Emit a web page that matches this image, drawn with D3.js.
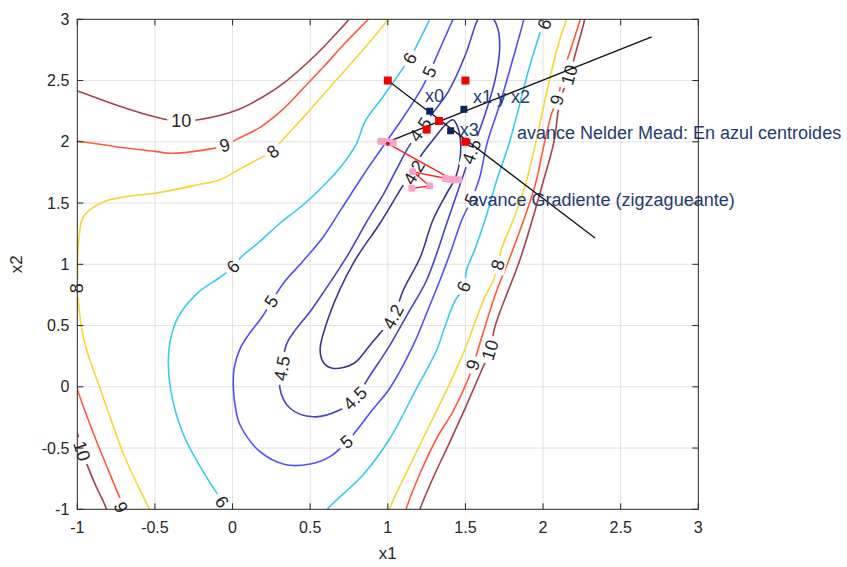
<!DOCTYPE html>
<html>
<head>
<meta charset="utf-8">
<script src="https://cdn.jsdelivr.net/npm/d3@7"></script>
<style>
  body { margin: 0; background: #fff; }
  svg { display: block; font-family: "Liberation Sans", Arial, sans-serif; }
</style>
</head>
<body>
<svg id="chart" width="847" height="567"></svg>
<script>
// axis ticks
const xTicks = [-1, -0.5, 0, 0.5, 1, 1.5, 2, 2.5, 3];
const yTicks = [-1, -0.5, 0, 0.5, 1, 1.5, 2, 2.5, 3];

// contour levels and their line colours
const levels = [4.2, 4.5, 5, 6, 8, 9, 10];
const levelColors = ["#36368f", "#4343c8", "#5050f7", "#3cc8f2", "#f5d63a", "#ff5a3c", "#a2444b"];

// contour lines, points are [x1, x2]
const c42 = [[0.65,0.15],[0.78,0.19],[0.885,0.34],[0.95,0.437],[1.035,0.57],[1.10,0.79],[1.21,1.06],[1.29,1.36],
  [1.38,1.58],[1.44,1.72],[1.47,1.96],[1.45,2.12],[1.42,2.18],[1.38,2.15],[1.30,2.03],[1.21,1.88],[1.16,1.77],
  [1.08,1.607],[0.95,1.335],[0.778,1.01],[0.628,0.60],[0.564,0.30],[0.59,0.19]];
const c45 = [[1.61,3.06],[1.573,2.98],[1.50,2.71],[1.39,2.41],[1.28,2.22],[1.21,2.10],[1.13,1.95],[1.05,1.76],
  [0.98,1.59],[0.87,1.36],[0.735,1.06],[0.52,0.65],[0.35,0.355],[0.32,0.15],[0.305,-0.01],[0.37,-0.175],
  [0.52,-0.245],[0.69,-0.19],[0.79,-0.095],[0.874,0.07],[1.014,0.34],[1.13,0.6],[1.25,0.87],[1.38,1.335],
  [1.476,1.69],[1.54,1.92],[1.62,2.2],[1.69,2.5],[1.72,2.75],[1.71,2.92],[1.67,3.02]];
const c5 = [[1.43,3.03],[1.42,3.0],[1.35,2.8],[1.27,2.57],[1.22,2.44],[1.10,2.2],[0.99,2.0],[0.88,1.8],[0.70,1.45],
  [0.585,1.225],[0.45,1.02],[0.33,0.85],[0.25,0.695],[0.19,0.57],[0.10,0.42],[0.048,0.31],[0.01,0.15],
  [0.005,-0.01],[0.02,-0.18],[0.048,-0.31],[0.177,-0.53],[0.338,-0.635],[0.50,-0.63],[0.628,-0.57],
  [0.735,-0.45],[0.79,-0.37],[0.90,-0.19],[1.014,-0.01],[1.164,0.34],[1.25,0.6],[1.336,0.87],[1.41,1.12],
  [1.476,1.36],[1.54,1.53],[1.59,1.70],[1.64,1.99],[1.72,2.3],[1.80,2.65],[1.876,3.0],[1.88,3.03]];
const c6a = [[1.28,3.03],[1.27,3.0],[1.20,2.82],[1.143,2.68],[1.09,2.586],[0.97,2.37],[0.853,2.164],[0.80,1.99],
  [0.70,1.80],[0.60,1.66],[0.45,1.48],[0.305,1.335],[0.17,1.18],[0.048,1.05],[0.005,0.98],[-0.09,0.886],
  [-0.23,0.76],[-0.36,0.545],[-0.41,0.30],[-0.40,-0.01],[-0.317,-0.39],[-0.19,-0.69],[-0.10,-0.87],
  [-0.05,-0.96],[-0.02,-1.03]];
const c6b = [[2.03,3.05],[1.98,2.885],[1.91,2.6],[1.84,2.26],[1.78,1.98],[1.70,1.68],[1.626,1.36],[1.56,1.12],
  [1.508,0.955],[1.49,0.817],[1.43,0.695],[1.37,0.5],[1.315,0.30],[1.186,-0.01],[1.014,-0.42],[0.84,-0.72],
  [0.617,-0.99],[0.60,-1.03]];
const c8a = [[1.02,3.03],[1.003,3.0],[0.82,2.72],[0.63,2.45],[0.47,2.22],[0.305,1.99],[0.26,1.92],[0.198,1.88],
  [0.05,1.78],[-0.08,1.69],[-0.23,1.647],[-0.5,1.58],[-0.70,1.55],[-0.83,1.51],[-0.96,1.39],[-0.99,1.2],
  [-0.998,0.95],[-0.995,0.75],[-0.975,0.5],[-0.94,0.30],[-0.854,-0.01],[-0.78,-0.28],[-0.70,-0.557],
  [-0.62,-0.78],[-0.54,-0.99],[-0.53,-1.03]];
const c8b = [[2.16,3.05],[2.15,3.0],[2.10,2.8],[2.056,2.586],[1.98,2.15],[1.895,1.69],[1.82,1.4],[1.73,1.117],
  [1.71,0.995],[1.68,0.87],[1.626,0.736],[1.528,0.41],[1.508,0.34],[1.40,0.03],[1.27,-0.31],[1.14,-0.65],
  [1.014,-0.99],[1.01,-1.03]];
const c9a = [[-1.02,2.01],[-1.0,2.006],[-0.75,1.96],[-0.49,1.92],[-0.40,1.906],[-0.2,1.93],[-0.05,1.97],
  [0.027,2.02],[0.18,2.12],[0.32,2.26],[0.45,2.43],[0.585,2.61],[0.72,2.8],[0.874,3.0],[0.90,3.04]];
const c9b = [[2.25,3.05],[2.24,3.0],[2.19,2.8],[2.14,2.6],[2.09,2.34],[2.055,2.23],[2.0,1.94],[1.95,1.65],
  [1.80,1.1],[1.70,0.78],[1.626,0.49],[1.55,0.178],[1.51,0.04],[1.42,-0.2],[1.315,-0.42],[1.21,-0.7],
  [1.117,-1.0],[1.11,-1.03]];
const c9c = [[-1.01,0.02],[-1.0,-0.02],[-0.95,-0.2],[-0.875,-0.448],[-0.80,-0.68],[-0.725,-0.91],[-0.70,-0.98],[-0.69,-1.03]];
const c10a = [[-1.02,2.42],[-1.0,2.415],[-0.75,2.30],[-0.55,2.22],[-0.42,2.18],[-0.33,2.17],[-0.22,2.18],
  [0.03,2.26],[0.2,2.37],[0.34,2.49],[0.52,2.69],[0.65,2.86],[0.75,3.0],[0.77,3.04]];
const c10b = [[2.27,3.05],[2.266,2.99],[2.217,2.76],[2.17,2.545],[2.11,2.34],[2.07,2.0],[2.0,1.67],[1.86,1.07],
  [1.69,0.49],[1.66,0.30],[1.60,0.123],[1.50,-0.17],[1.40,-0.45],[1.30,-0.72],[1.207,-1.0],[1.20,-1.03]];
const c10c = [[-1.01,-0.35],[-1.0,-0.38],[-0.97,-0.5],[-0.94,-0.625],[-0.88,-0.81],[-0.815,-0.99],[-0.81,-1.03]];

const contourLines = [
  { level: 4.2, pts: c42, closed: true },
  { level: 4.5, pts: c45, closed: true },
  { level: 5, pts: c5 },
  { level: 6, pts: c6a }, { level: 6, pts: c6b },
  { level: 8, pts: c8a }, { level: 8, pts: c8b },
  { level: 9, pts: c9a }, { level: 9, pts: c9b }, { level: 9, pts: c9c },
  { level: 10, pts: c10a }, { level: 10, pts: c10b }, { level: 10, pts: c10c }
];

// inline contour labels: [x1, x2, text, angle]
const contourLabels = [
  [-0.33, 2.17, "10", 0], [-0.05, 1.97, "9", -15], [0.26, 1.92, "8", -38],
  [0.005, 0.98, "6", -45], [0.25, 0.695, "5", -57], [0.32, 0.15, "4.5", -80],
  [0.79, -0.095, "4.5", -45], [0.735, -0.45, "5", -40], [-0.07, -0.94, "6", 55],
  [1.035, 0.57, "4.2", -62], [1.49, 0.817, "6", -69], [1.71, 0.995, "8", -75],
  [1.55, 0.178, "9", -72], [1.66, 0.30, "10", -73], [1.54, 1.53, "5", -67],
  [1.54, 1.92, "4.5", -70], [1.21, 2.10, "4.5", -55], [1.17, 1.75, "4.2", -59],
  [1.27, 2.57, "5", -65], [1.143, 2.68, "6", -60], [2.01, 2.96, "6", -73],
  [2.09, 2.34, "9", -74], [2.17, 2.545, "10", -74], [-1.0, 0.804, "8", -90],
  [-0.972, -0.524, "10", 73], [-0.72, -0.985, "9", 68]
];

// Nelder-Mead run
const nmVertices = [[1.0, 2.5], [1.5, 2.5], [1.25, 2.1], [1.33, 2.17], [1.5, 2.0]];
const nmCentroids = [[1.27, 2.25], [1.49, 2.265], [1.405, 2.09]];
const nmLines = [[[1.0, 2.5], [2.335, 1.215]], [[1.0, 2.0], [2.70, 2.856]]];
const centroidNames = [[1.24, 2.374, "x0"], [1.549, 2.366, "x1 y x2"], [1.464, 2.096, "x3"]];

// gradient run
const gradPath = [[1.0, 1.985], [1.42, 1.69], [1.16, 1.755], [1.27, 1.64], [1.155, 1.62]];
const gradMarkers = [[0.955, 2.005], [0.975, 2.0], [0.995, 2.0], [1.015, 1.995], [1.035, 1.99],
  [1.37, 1.70], [1.40, 1.695], [1.43, 1.69], [1.455, 1.69], [1.16, 1.755], [1.27, 1.64], [1.155, 1.62]];

const notes = [[1.832, 2.071, "avance Nelder Mead: En azul centroides"], [1.52, 1.525, "avance Gradiente (zigzagueante)"]];

const svg = d3.select("#chart");
const W = 847, H = 567;
const x = d3.scaleLinear().domain([-1, 3]).range([77.3, 698.3]);
const y = d3.scaleLinear().domain([-1, 3]).range([509.3, 19.3]);
const [x0, x1] = x.range(), [y0, y1] = [y.range()[1], y.range()[0]];
const color = d3.scaleOrdinal().domain(levels).range(levelColors);

svg.append("rect").attr("width", W).attr("height", H).attr("fill", "#fff");

const defs = svg.append("defs");
defs.append("clipPath").attr("id", "plotclip")
  .append("rect").attr("x", x0).attr("y", y0).attr("width", x1 - x0).attr("height", y1 - y0);
const mask = defs.append("mask").attr("id", "lblmask").attr("maskUnits", "userSpaceOnUse")
  .attr("x", 0).attr("y", 0).attr("width", W).attr("height", H);
mask.append("rect").attr("width", W).attr("height", H).attr("fill", "#fff");

// grid
svg.append("g").selectAll("line").data(xTicks.slice(1, -1)).join("line")
  .attr("x1", d => x(d)).attr("x2", d => x(d)).attr("y1", y0).attr("y2", y1)
  .attr("stroke", "#e1e1e1").attr("stroke-width", 1);
svg.append("g").selectAll("line").data(yTicks.slice(1, -1)).join("line")
  .attr("y1", d => y(d)).attr("y2", d => y(d)).attr("x1", x0).attr("x2", x1)
  .attr("stroke", "#e1e1e1").attr("stroke-width", 1);

// contours
const open = d3.line().x(d => x(d[0])).y(d => y(d[1])).curve(d3.curveCatmullRom.alpha(0.5));
const shut = d3.line().x(d => x(d[0])).y(d => y(d[1])).curve(d3.curveCatmullRomClosed.alpha(0.5));
svg.append("g").attr("clip-path", "url(#plotclip)")
  .append("g").attr("mask", "url(#lblmask)")
  .selectAll("path").data(contourLines).join("path")
  .attr("d", d => (d.closed ? shut : open)(d.pts))
  .attr("fill", "none")
  .attr("stroke", d => color(d.level))
  .attr("stroke-width", 1.6);

// contour labels, with gaps cut into the lines
const lbl = svg.append("g").selectAll("text").data(contourLabels).join("text")
  .attr("transform", d => `translate(${x(d[0])},${y(d[1])}) rotate(${d[3]})`)
  .attr("text-anchor", "middle").attr("dominant-baseline", "central")
  .attr("font-size", 18).attr("fill", "#262626")
  .text(d => d[2]);
lbl.each(function (d) {
  const w = this.getComputedTextLength() + 8;
  mask.append("rect")
    .attr("x", -w / 2).attr("y", -8).attr("width", w).attr("height", 16)
    .attr("transform", `translate(${x(d[0])},${y(d[1])}) rotate(${d[3]})`)
    .attr("fill", "#000");
});

// Nelder-Mead lines
const seg = d3.line().x(d => x(d[0])).y(d => y(d[1]));
const runs = svg.append("g").attr("clip-path", "url(#plotclip)");
runs.selectAll(".nm").data(nmLines).join("path").attr("class", "nm")
  .attr("d", seg).attr("fill", "none").attr("stroke", "#111").attr("stroke-width", 1.3);

// gradient path
runs.append("path").attr("d", seg(gradPath)).attr("fill", "none")
  .attr("stroke", "#ff1f1f").attr("stroke-width", 1.4);
runs.selectAll(".gm").data(gradMarkers).join("rect").attr("class", "gm")
  .attr("x", d => x(d[0]) - 3.5).attr("y", d => y(d[1]) - 3.5)
  .attr("width", 7).attr("height", 7).attr("rx", 1.5)
  .attr("fill", "#f7a3c9");
runs.append("circle").attr("cx", x(gradPath[0][0])).attr("cy", y(gradPath[0][1])).attr("r", 2)
  .attr("fill", "#c8102e");

// vertices and centroids
runs.selectAll(".nv").data(nmVertices).join("rect").attr("class", "nv")
  .attr("x", d => x(d[0]) - 4).attr("y", d => y(d[1]) - 4)
  .attr("width", 8).attr("height", 8).attr("fill", "#f40000");
runs.selectAll(".nc").data(nmCentroids).join("rect").attr("class", "nc")
  .attr("x", d => x(d[0]) - 3.5).attr("y", d => y(d[1]) - 3.5)
  .attr("width", 7).attr("height", 7).attr("fill", "#0c2659");

// annotations
svg.append("g").selectAll("text").data(centroidNames.concat(notes)).join("text")
  .attr("x", d => x(d[0])).attr("y", d => y(d[1]))
  .attr("dominant-baseline", "central")
  .attr("font-size", 18).attr("fill", "#1f3b70")
  .text(d => d[2]);

// box and ticks
const axes = svg.append("g").attr("stroke", "#262626").attr("stroke-width", 1);
axes.append("rect").attr("x", x0).attr("y", y0).attr("width", x1 - x0).attr("height", y1 - y0)
  .attr("fill", "none");
const tl = 6;
xTicks.forEach(t => {
  axes.append("line").attr("x1", x(t)).attr("x2", x(t)).attr("y1", y1).attr("y2", y1 - tl);
  axes.append("line").attr("x1", x(t)).attr("x2", x(t)).attr("y1", y0).attr("y2", y0 + tl);
});
yTicks.forEach(t => {
  axes.append("line").attr("y1", y(t)).attr("y2", y(t)).attr("x1", x0).attr("x2", x0 + tl);
  axes.append("line").attr("y1", y(t)).attr("y2", y(t)).attr("x1", x1).attr("x2", x1 - tl);
});

svg.append("g").selectAll("text").data(xTicks).join("text")
  .attr("x", d => x(d)).attr("y", y1 + 24)
  .attr("text-anchor", "middle").attr("font-size", 16).attr("fill", "#262626")
  .text(d => String(d));
svg.append("g").selectAll("text").data(yTicks).join("text")
  .attr("x", x0 - 8).attr("y", d => y(d))
  .attr("text-anchor", "end").attr("dominant-baseline", "central")
  .attr("font-size", 16).attr("fill", "#262626")
  .text(d => String(d));

svg.append("text").attr("x", (x0 + x1) / 2).attr("y", 559)
  .attr("text-anchor", "middle").attr("font-size", 17).attr("fill", "#262626").text("x1");
svg.append("text").attr("transform", `translate(22,${(y0 + y1) / 2}) rotate(-90)`)
  .attr("text-anchor", "middle").attr("font-size", 17).attr("fill", "#262626").text("x2");
</script>
</body>
</html>
